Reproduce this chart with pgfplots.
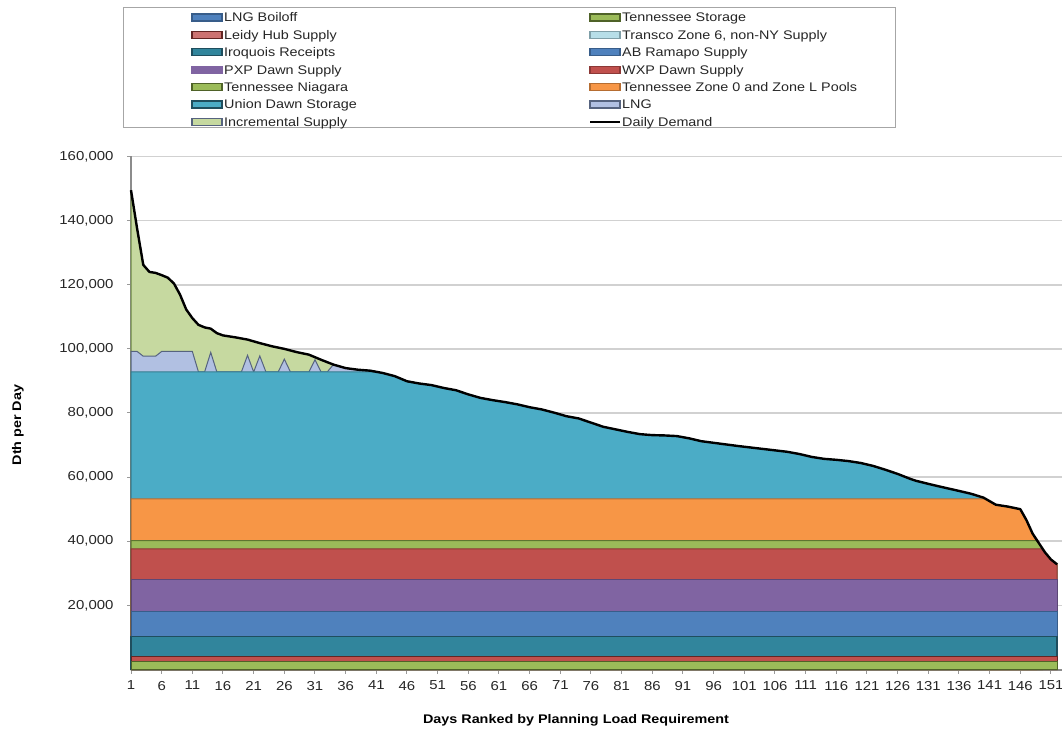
\documentclass[border=0pt]{standalone}
\usepackage{pgfplots}
\usepackage{pgfplotstable}
\pgfplotsset{compat=1.18}
\usepackage{fontspec}
\setmainfont{Liberation Sans}[FakeStretch=1.15]

\definecolor{cBoil}{HTML}{4F81BD}\definecolor{dBoil}{HTML}{385D8A}
\definecolor{cTnSt}{HTML}{9BBB59}\definecolor{dTnSt}{HTML}{4F6228}
\definecolor{cLeid}{HTML}{C0504D}\definecolor{dLeid}{HTML}{632523}
\definecolor{cTran}{HTML}{B7DEE8}\definecolor{dTran}{HTML}{7F9FA8}
\definecolor{cIroq}{HTML}{31859C}\definecolor{dIroq}{HTML}{1F4E5E}
\definecolor{cAbRa}{HTML}{4F81BD}\definecolor{dAbRa}{HTML}{385D8A}
\definecolor{cPxp}{HTML}{8064A2}\definecolor{dPxp}{HTML}{5C4776}
\definecolor{cWxp}{HTML}{C0504D}\definecolor{dWxp}{HTML}{8C3836}
\definecolor{cNiag}{HTML}{9BBB59}\definecolor{dNiag}{HTML}{5E7530}
\definecolor{cZone}{HTML}{F79646}\definecolor{dZone}{HTML}{B66D31}
\definecolor{cUnio}{HTML}{4BACC6}\definecolor{dUnio}{HTML}{357D91}
\definecolor{cLng}{HTML}{B1C0E2}\definecolor{dLng}{HTML}{56637F}
\definecolor{cIncr}{HTML}{C6D9A0}\definecolor{dIncr}{HTML}{6E8A45}

% daily demand, days ranked
\pgfplotstableread{
day val
1 149500
2 137500
3 126200
4 124000
5 123700
6 123000
7 122200
8 120400
9 116900
10 112300
11 109600
12 107500
13 106700
14 106300
15 104900
16 104200
18 103600
20 102900
22 101800
24 100800
26 100000
28 99000
30 98200
32 96600
34 95100
36 94000
38 93500
40 93200
42 92500
44 91500
46 89900
48 89200
50 88700
52 87800
54 87100
56 85800
58 84700
60 84000
62 83400
64 82700
66 81800
68 81100
70 80100
72 79000
74 78300
76 77000
78 75700
80 74900
82 74100
84 73400
86 73100
88 73000
90 72800
92 72100
94 71200
96 70700
100 69700
104 68800
108 67900
110 67200
112 66300
114 65700
116 65400
118 65000
120 64400
122 63500
124 62300
126 61000
128 59500
129 58850
131 57900
133 57000
136 55700
138 54800
140 53600
142 51400
144 50800
146 50000
147 46600
148 42400
149 39500
150 36600
151 34300
152 32800
}\demand

% top of LNG layer
\pgfplotstableread{
day val
1 99200
2 99200
3 97700
5 97700
6 99200
11 99200
12 92800
13 92800
14 98900
15 92800
19 92800
20 98000
21 92800
22 97800
23 92800
25 92800
26 96800
27 92800
30 92800
31 96600
32 92800
33 92800
34 95100
36 94000
38 93500
40 93200
41 92800
}\lngtop

% top of Union Dawn Storage layer
\pgfplotstableread{
day val
1 92800
41 92800
42 92500
44 91500
46 89900
48 89200
50 88700
52 87800
54 87100
56 85800
58 84700
60 84000
62 83400
64 82700
66 81800
68 81100
70 80100
72 79000
74 78300
76 77000
78 75700
80 74900
82 74100
84 73400
86 73100
88 73000
90 72800
92 72100
94 71200
96 70700
100 69700
104 68800
108 67900
110 67200
112 66300
114 65700
116 65400
118 65000
120 64400
122 63500
124 62300
126 61000
128 59500
129 58850
131 57900
133 57000
136 55700
138 54800
140 53600
140.3 53200
}\uniontop

\newcommand\legfont{\fontsize{12.5}{12.5}\selectfont}
\newcommand\legbox[5]{%
  \filldraw[fill=#3,draw=#4,line width=1.2pt] (#1,#2-3.5pt) rectangle ++(30pt,7pt);
  \node[anchor=base west,inner sep=0pt,font=\legfont,text=black!85] at (#1+32pt,#2-4.5pt) {#5};}

\begin{document}
\begin{tikzpicture}
\useasboundingbox (0,0) rectangle (1062pt,734pt);
\begin{axis}[
  at={(131pt,64.5pt)}, anchor=south west,
  scale only axis, width=931pt, height=513pt,
  xmin=1, xmax=152.8, ymin=0, ymax=160000,
  axis x line*=bottom, axis y line*=left,
  axis line style={-, draw=black!45, line width=2pt},
  xtick={1,6,...,151}, ytick={20000,40000,...,160000},
  tick align=outside, major tick length=4pt,
  tick style={draw=black!40, line width=1pt},
  ymajorgrids, grid style={draw=black!18, line width=1.6pt},
  scaled y ticks=false,
  /pgf/number format/.cd, fixed, precision=0, 1000 sep={,}, assume math mode=true,
  /pgfplots/.cd,
  tick label style={font=\fontsize{13}{13}\selectfont, text=black!85},
  yticklabel style={xshift=-10pt},
  xticklabel style={yshift=-4pt},
  clip=false,
]
% painted from the top layer down
\addplot[fill=cIncr, draw=dIncr, line width=1pt] table[x=day,y=val] {\demand} \closedcycle;
\addplot[fill=cLng, draw=dLng, line width=1pt] table[x=day,y=val] {\lngtop} \closedcycle;
\addplot[fill=cUnio, draw=dUnio, line width=1pt] table[x=day,y=val] {\uniontop} \closedcycle;
\addplot[fill=cZone, draw=dZone, line width=1pt] coordinates {
  (1,53200) (140.3,53200) (142,51400) (144,50800) (146,50000) (147,46600) (148,42400) (148.6,40200)} \closedcycle;
\addplot[fill=cNiag, draw=dNiag, line width=1pt] coordinates {
  (1,40200) (148.6,40200) (149,39500) (149.6,37600)} \closedcycle;
\addplot[fill=cWxp, draw=dWxp, line width=1pt] coordinates {
  (1,37600) (149.6,37600) (150,36600) (151,34300) (152,32800)} \closedcycle;
\addplot[fill=cPxp, draw=dPxp, line width=1pt] coordinates {(1,28000) (152,28000)} \closedcycle;
\addplot[fill=cAbRa, draw=dAbRa, line width=1pt] coordinates {(1,18000) (152,18000)} \closedcycle;
\addplot[fill=cIroq, draw=dIroq, line width=1.8pt] coordinates {(1,10300) (152,10300)} \closedcycle;
\addplot[fill=cLeid, draw=dLeid, line width=1pt] coordinates {(1,3950) (152,3950)} \closedcycle;
\addplot[fill=cTnSt, draw=dTnSt, line width=1pt] coordinates {(1,2400) (152,2400)} \closedcycle;
% daily demand line
\addplot[black, line width=2.4pt, line join=round] table[x=day,y=val] {\demand};
\end{axis}

% legend
\draw[black!35, line width=1pt] (123pt,606pt) rectangle (895pt,726pt);
\legbox{192pt}{716.5pt}{cBoil}{dBoil}{LNG Boiloff}
\legbox{590pt}{716.5pt}{cTnSt}{dTnSt}{Tennessee Storage}
\legbox{192pt}{699.1pt}{cLeid!80!white}{dLeid}{Leidy Hub Supply}
\legbox{590pt}{699.1pt}{cTran}{dTran}{Transco Zone 6, non-NY Supply}
\legbox{192pt}{681.7pt}{cIroq}{dIroq}{Iroquois Receipts}
\legbox{590pt}{681.7pt}{cAbRa}{dAbRa}{AB Ramapo Supply}
\legbox{192pt}{664.3pt}{cPxp}{cPxp}{PXP Dawn Supply}
\legbox{590pt}{664.3pt}{cWxp}{dWxp}{WXP Dawn Supply}
\legbox{192pt}{646.9pt}{cNiag}{dTnSt}{Tennessee Niagara}
\legbox{590pt}{646.9pt}{cZone}{dZone}{Tennessee Zone 0 and Zone L Pools}
\legbox{192pt}{629.5pt}{cUnio}{dIroq}{Union Dawn Storage}
\legbox{590pt}{629.5pt}{cLng}{dLng}{LNG}
\legbox{192pt}{612.1pt}{cIncr}{dLng}{Incremental Supply}
\draw[black, line width=1.6pt] (590pt,612.1pt) -- ++(30pt,0);
\node[anchor=base west,inner sep=0pt,font=\legfont,text=black!85] at (622pt,607.6pt) {Daily Demand};

% axis titles
\node[font=\bfseries\fontsize{12.5}{12.5}\selectfont] at (576pt,14pt) {Days Ranked by Planning Load Requirement};
\node[rotate=90, font=\bfseries\fontsize{12.5}{12.5}\selectfont] at (18pt,309pt) {Dth per Day};
\end{tikzpicture}
\end{document}
